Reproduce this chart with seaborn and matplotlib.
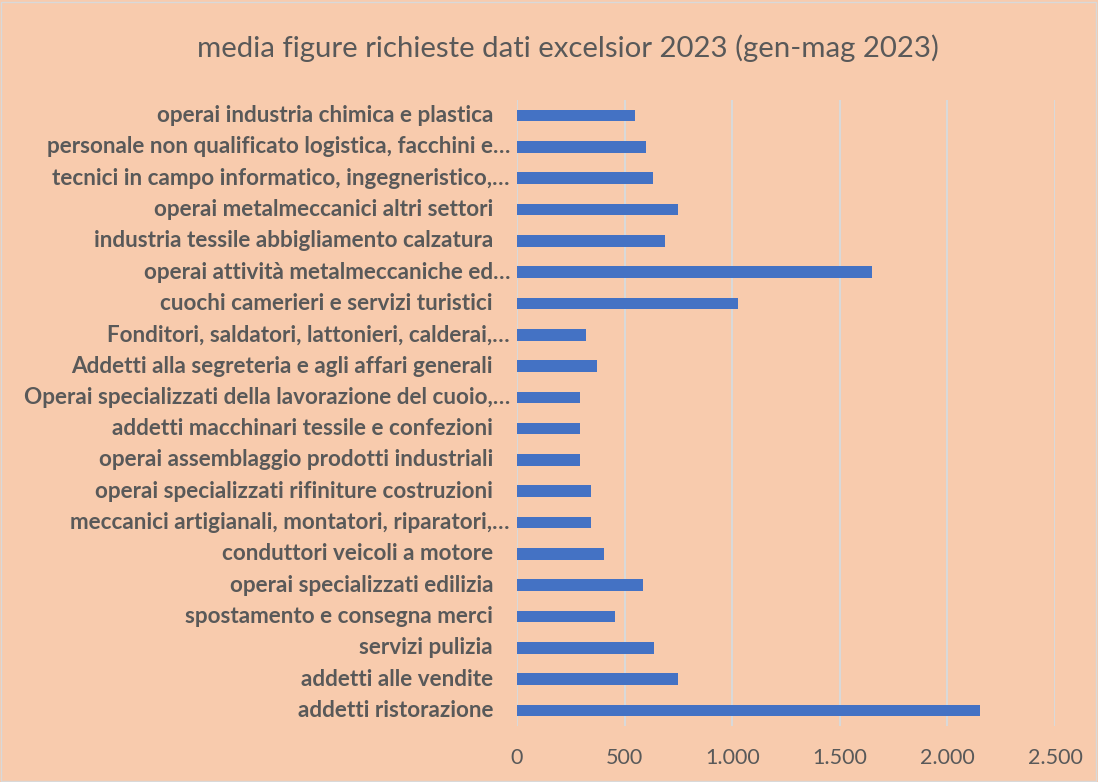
import numpy as np
import pandas as pd
import matplotlib
matplotlib.use("Agg")
import matplotlib.pyplot as plt
import matplotlib.transforms as mtransforms
import seaborn as sns
from matplotlib.ticker import FuncFormatter

categorie = [
    "operai industria chimica e plastica",
    "personale non qualificato logistica, facchini e…",
    "tecnici in campo informatico, ingegneristico,…",
    "operai metalmeccanici altri settori",
    "industria tessile abbigliamento calzatura",
    "operai attività metalmeccaniche ed…",
    "cuochi camerieri e servizi turistici",
    "Fonditori, saldatori, lattonieri, calderai,…",
    "Addetti alla segreteria e agli affari generali",
    "Operai specializzati della lavorazione del cuoio,…",
    "addetti macchinari tessile e confezioni",
    "operai assemblaggio prodotti industriali",
    "operai specializzati rifiniture costruzioni",
    "meccanici artigianali, montatori, riparatori,…",
    "conduttori veicoli a motore",
    "operai specializzati edilizia",
    "spostamento e consegna merci",
    "servizi pulizia",
    "addetti alle vendite",
    "addetti ristorazione",
]
valori = [549, 599, 630, 750, 688, 1648, 1029, 320, 370, 295,
          295, 295, 345, 342, 405, 586, 455, 636, 750, 2151]
tick_valori = [0, 500, 1000, 1500, 2000, 2500]

df = pd.DataFrame({"figura": categorie, "media": valori})

sfondo = "#F8CBAD"
grigio = "#595959"

sns.set_style("white")
plt.rcParams["font.family"] = ["Lato", "DejaVu Sans"]

fig = plt.figure(figsize=(10.98, 7.82), dpi=100, facecolor=sfondo)
ax = fig.add_axes([517 / 1098, 1 - 726 / 782, (1055 - 517) / 1098, (726 - 100) / 782])
ax.set_facecolor(sfondo)

sns.barplot(data=df, y="figura", x="media", orient="h", color="#4472C4",
            width=0.37, saturation=1, linewidth=0, ax=ax, zorder=3)

ax.set_xlim(0, 2500)
ax.set_xticks(tick_valori)
ax.xaxis.set_major_formatter(FuncFormatter(lambda v, p: f"{int(v):,}".replace(",", ".")))
ax.grid(axis="x", color="#D9D9D9", linewidth=1.5, zorder=0)
for s in ax.spines.values():
    s.set_visible(False)
ax.set_xlabel("")
ax.set_ylabel("")
ax.tick_params(axis="x", length=0, pad=16, labelsize=15.5, labelcolor=grigio)

# etichette categorie: quelle non troncate hanno uno spazio finale in Excel
yt = ax.get_yticks()
etichette = [t.get_text() for t in ax.get_yticklabels()]
ax.tick_params(axis="y", length=0, labelleft=False)
base = mtransforms.blended_transform_factory(ax.transAxes, ax.transData)
for y, lab in zip(yt, etichette):
    dx = -7 if lab.endswith("…") else -24
    tr = base + mtransforms.ScaledTranslation(dx / 100, 0, fig.dpi_scale_trans)
    ax.text(0, y, lab, transform=tr, ha="right", va="center", fontsize=16.2,
            fontweight="bold", color=grigio)

fig.text(568 / 1098, 1 - 48 / 782, "media figure richieste dati excelsior 2023 (gen-mag 2023)",
         ha="center", va="center", fontsize=21.2, color=grigio)

fig.patches.append(plt.Rectangle((0.001, 0.001), 0.997, 0.997, transform=fig.transFigure,
                                 fill=False, edgecolor="#D9D9D9", linewidth=1))

fig.savefig("out.png", dpi=100, facecolor=sfondo)
